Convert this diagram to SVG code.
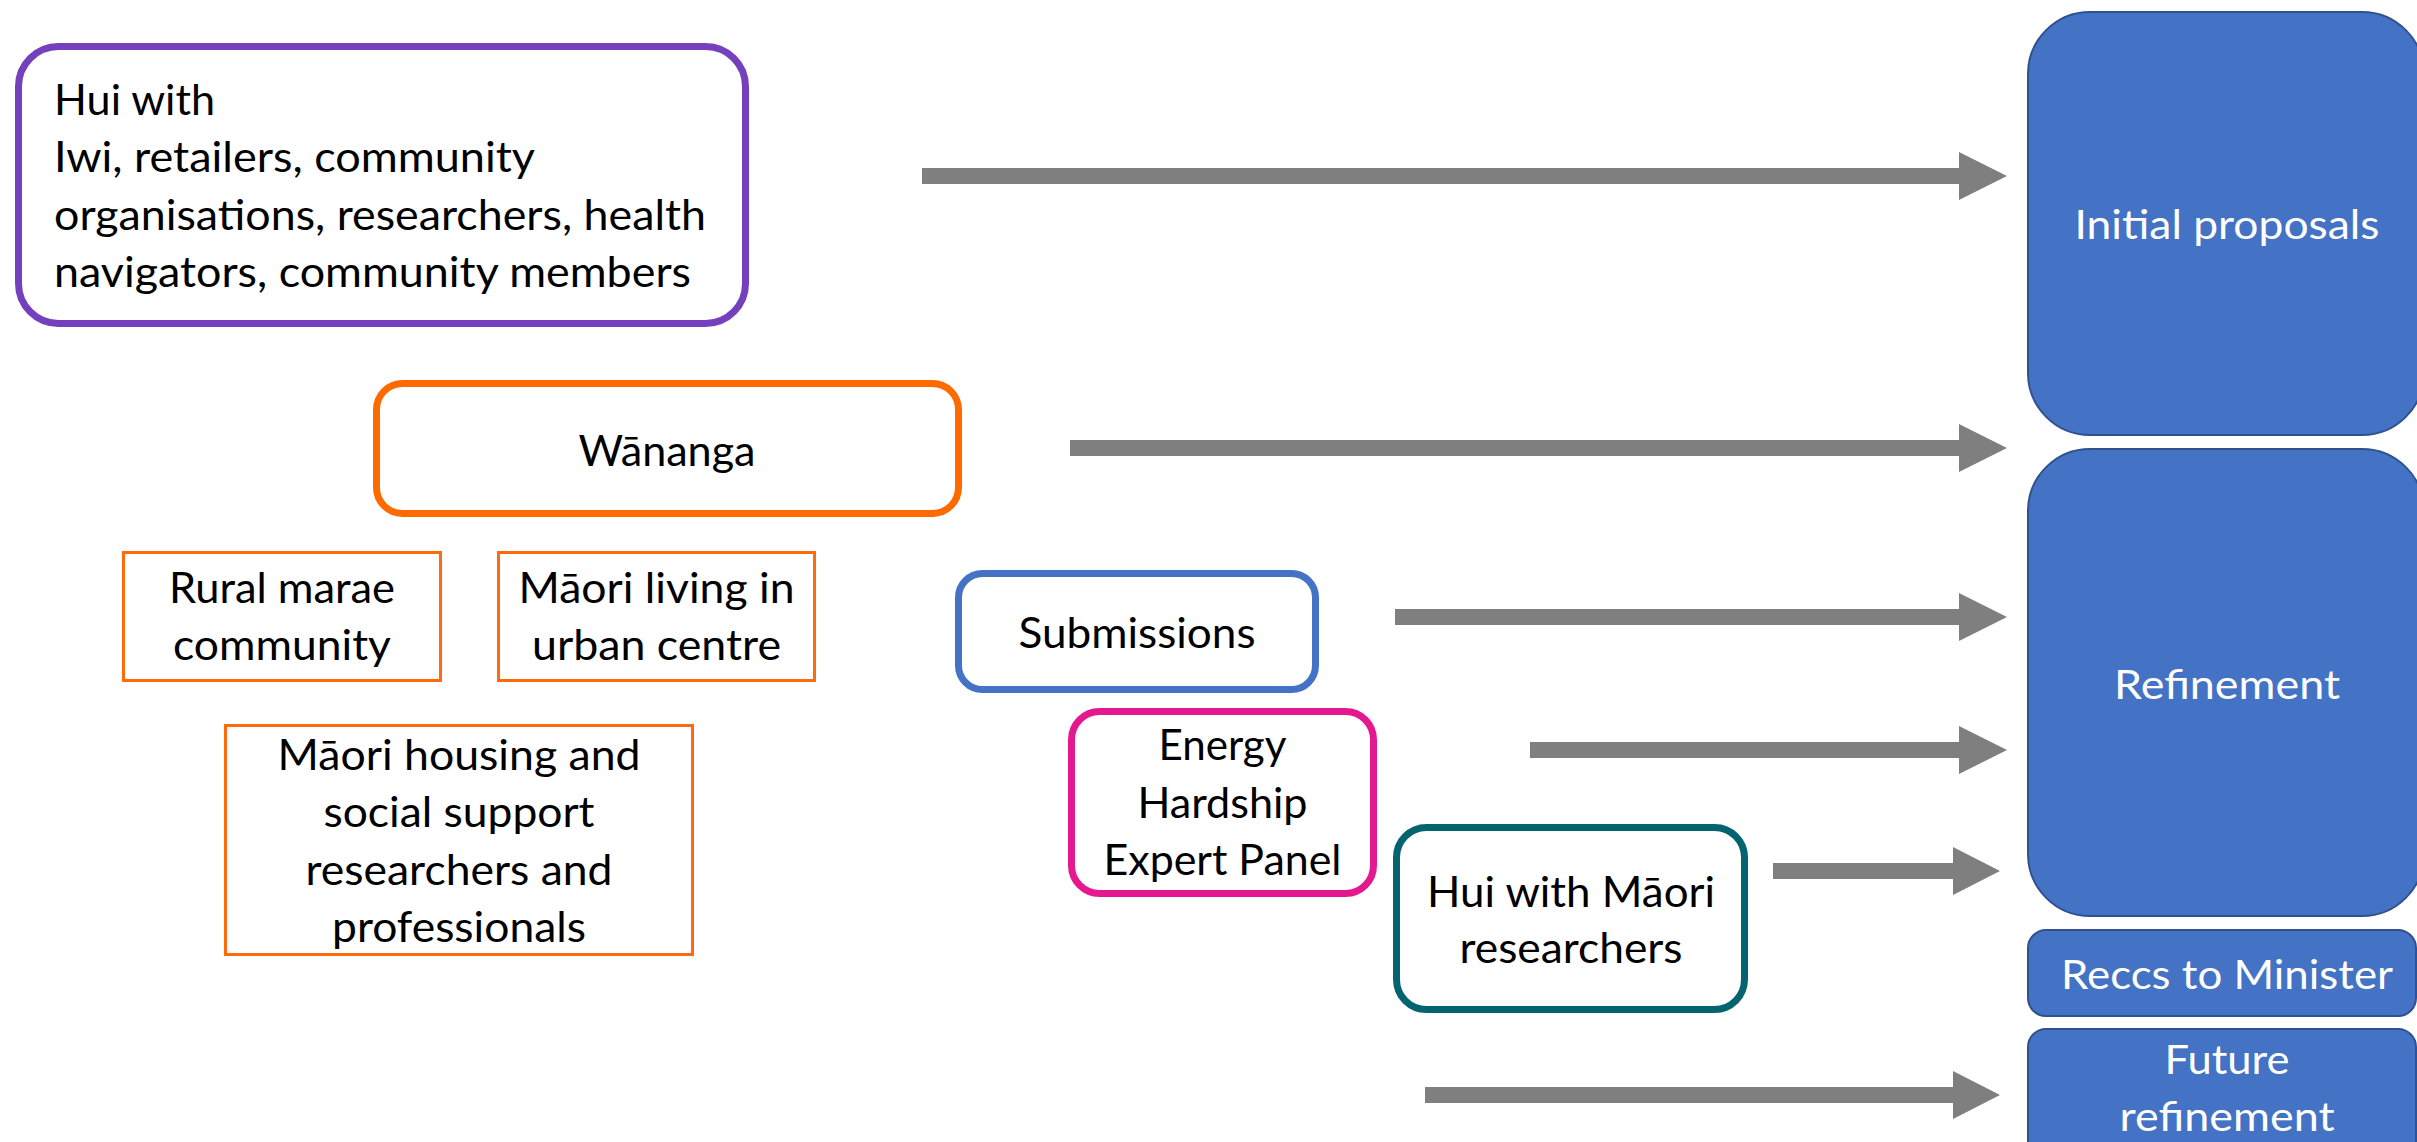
<svg xmlns="http://www.w3.org/2000/svg" width="2417" height="1142" viewBox="0 0 2417 1142">
<style>
text{font-family:Lato,"Open Sans","Liberation Sans",sans-serif;font-size:42px;fill:#000}
.w{fill:#fff;font-size:41px}
.box{fill:#fff}
.thick{stroke-width:7}
.thin{stroke-width:3}
.blue{fill:#4472C4;stroke:#2F528F;stroke-width:2}
.arr{fill:#7F7F7F}
</style>
<rect width="2417" height="1142" fill="#fff"/>
<g id="connectors">
<path class="arr" d="M922,168H1959V152L2007,176L1959,200V184H922Z"/>
<path class="arr" d="M1070,440H1959V424L2007,448L1959,472V456H1070Z"/>
<path class="arr" d="M1395,609H1959V593L2007,617L1959,641V625H1395Z"/>
<path class="arr" d="M1530,742H1959V726L2007,750L1959,774V758H1530Z"/>
<path class="arr" d="M1773,863H1953V847L2000,871L1953,895V879H1773Z"/>
<path class="arr" d="M1425,1087H1953V1071L2000,1095L1953,1119V1103H1425Z"/>
</g>
<g id="hui-stakeholders">
<rect class="box thick" x="18.5" y="46.5" width="727" height="277" rx="40" stroke="#7440BE"/>
<text x="54" y="115" textLength="161" lengthAdjust="spacingAndGlyphs">Hui with</text>
<text x="54" y="172" textLength="481" lengthAdjust="spacingAndGlyphs">Iwi, retailers, community</text>
<text x="54" y="230" textLength="652" lengthAdjust="spacingAndGlyphs">organisations, researchers, health</text>
<text x="54" y="287" textLength="637" lengthAdjust="spacingAndGlyphs">navigators, community members</text>
</g>
<g id="wananga">
<rect class="box thick" x="376.5" y="383.5" width="582" height="130" rx="26" stroke="#FF6A00"/>
<text x="578.5" y="466" textLength="177" lengthAdjust="spacingAndGlyphs">Wānanga</text>
</g>
<g id="rural-marae">
<rect class="box thin" x="123.5" y="552.5" width="317" height="128" stroke="#FF6A0D"/>
<text x="169" y="603" textLength="226" lengthAdjust="spacingAndGlyphs">Rural marae</text>
<text x="173" y="660" textLength="218" lengthAdjust="spacingAndGlyphs">community</text>
</g>
<g id="maori-urban">
<rect class="box thin" x="498.5" y="552.5" width="316" height="128" stroke="#FF6A0D"/>
<text x="518.5" y="603" textLength="276" lengthAdjust="spacingAndGlyphs">Māori living in</text>
<text x="532" y="660" textLength="249" lengthAdjust="spacingAndGlyphs">urban centre</text>
</g>
<g id="maori-housing">
<rect class="box thin" x="225.5" y="725.5" width="467" height="229" stroke="#FF6A0D"/>
<text x="277.5" y="770" textLength="363" lengthAdjust="spacingAndGlyphs">Māori housing and</text>
<text x="323.5" y="827" textLength="271" lengthAdjust="spacingAndGlyphs">social support</text>
<text x="305.5" y="885" textLength="307" lengthAdjust="spacingAndGlyphs">researchers and</text>
<text x="332" y="942" textLength="254" lengthAdjust="spacingAndGlyphs">professionals</text>
</g>
<g id="submissions">
<rect class="box thick" x="958.5" y="573.5" width="357" height="116" rx="24" stroke="#4472C4"/>
<text x="1018.5" y="648" textLength="237" lengthAdjust="spacingAndGlyphs">Submissions</text>
</g>
<g id="expert-panel">
<rect class="box thick" x="1071.5" y="711.5" width="302" height="182" rx="28" stroke="#E5198F"/>
<text x="1158.5" y="760" textLength="128" lengthAdjust="spacingAndGlyphs">Energy</text>
<text x="1137.5" y="818" textLength="170" lengthAdjust="spacingAndGlyphs">Hardship</text>
<text x="1103.5" y="875" textLength="238" lengthAdjust="spacingAndGlyphs">Expert Panel</text>
</g>
<g id="hui-maori-researchers">
<rect class="box thick" x="1396.5" y="827.5" width="348" height="182" rx="30" stroke="#03636F"/>
<text x="1427" y="907" textLength="288" lengthAdjust="spacingAndGlyphs">Hui with Māori</text>
<text x="1459.5" y="963" textLength="223" lengthAdjust="spacingAndGlyphs">researchers</text>
</g>
<g id="initial-proposals">
<rect class="blue" x="2028" y="12" width="396" height="423" rx="62"/>
<text class="w" x="2074.5" y="239" textLength="305" lengthAdjust="spacingAndGlyphs">Initial proposals</text>
</g>
<g id="refinement">
<rect class="blue" x="2028" y="449" width="396" height="467" rx="62"/>
<text class="w" x="2114" y="699" textLength="226" lengthAdjust="spacingAndGlyphs">Refinement</text>
</g>
<g id="reccs-to-minister">
<rect class="blue" x="2028" y="930" width="388" height="86" rx="18"/>
<text class="w" x="2061" y="989" textLength="332" lengthAdjust="spacingAndGlyphs">Reccs to Minister</text>
</g>
<g id="future-refinement">
<rect class="blue" x="2028" y="1029" width="388" height="140" rx="18"/>
<text class="w" x="2164.5" y="1074" textLength="125" lengthAdjust="spacingAndGlyphs">Future</text>
<text class="w" x="2119.5" y="1131" textLength="215" lengthAdjust="spacingAndGlyphs">refinement</text>
</g>
</svg>
